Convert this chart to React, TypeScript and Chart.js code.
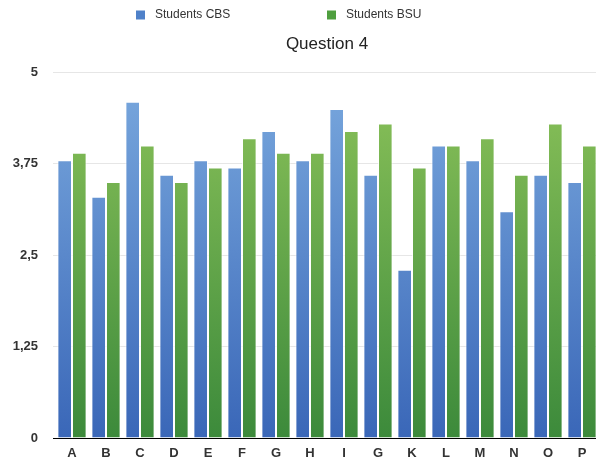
import React, { useEffect, useRef } from "react";
import { Chart, registerables } from "chart.js";

Chart.register(...registerables);

// Survey answers, question 4
const categories = ["A", "B", "C", "D", "E", "F", "G", "H", "I", "G", "K", "L", "M", "N", "O", "P"];
const studentsCBS = [3.8, 3.3, 4.6, 3.6, 3.8, 3.7, 4.2, 3.8, 4.5, 3.6, 2.3, 4.0, 3.8, 3.1, 3.6, 3.5];
const studentsBSU = [3.9, 3.5, 4.0, 3.5, 3.7, 4.1, 3.9, 3.9, 4.2, 4.3, 3.7, 4.0, 4.1, 3.6, 4.3, 4.0];
const seriesNames = ["Students CBS", "Students BSU"];
const yTickValues = [0, 1.25, 2.5, 3.75, 5];
const yTickLabels = ["0", "1,25", "2,5", "3,75", "5"];
const chartTitle = "Question 4";

const FONT = '"Liberation Sans", Arial, Helvetica, sans-serif';

// top / bottom stops of each series' vertical gradient
const palettes = [
  { top: "#7aa9de", bottom: "#3a67b8", swatch: "#4f81c9" },
  { top: "#8dc35a", bottom: "#3c8a3b", swatch: "#4f9f3f" },
];

function gradientFor(idx: number) {
  return (context: any) => {
    const { chart } = context;
    const area = chart.chartArea;
    if (!area) return palettes[idx].bottom;
    const g = chart.ctx.createLinearGradient(0, area.top, 0, area.bottom);
    g.addColorStop(0, palettes[idx].top);
    g.addColorStop(1, palettes[idx].bottom);
    return g;
  };
}

// legend row drawn above the title
const topLegend = {
  id: "topLegend",
  afterDraw(chart: any) {
    const ctx = chart.ctx;
    const starts = [136, 327];
    const y = 15;
    ctx.save();
    ctx.font = `12px ${FONT}`;
    ctx.textBaseline = "middle";
    ctx.textAlign = "left";
    chart.data.datasets.forEach((ds: any, i: number) => {
      const x = starts[i];
      ctx.fillStyle = palettes[i].swatch;
      ctx.fillRect(x, y - 4.5, 9, 9);
      ctx.fillStyle = "#333";
      ctx.fillText(ds.label, x + 19, y);
    });
    ctx.restore();
  },
};

export default function App() {
  const canvasRef = useRef<HTMLCanvasElement | null>(null);

  useEffect(() => {
    if (!canvasRef.current) return;
    const chart = new Chart(canvasRef.current, {
      type: "bar",
      data: {
        labels: categories,
        datasets: [
          {
            label: seriesNames[0],
            data: studentsCBS,
            backgroundColor: gradientFor(0),
            borderColor: "rgba(255,255,255,0.75)",
            borderWidth: 1,
            categoryPercentage: 0.86,
            barPercentage: 1,
          },
          {
            label: seriesNames[1],
            data: studentsBSU,
            backgroundColor: gradientFor(1),
            borderColor: "rgba(255,255,255,0.75)",
            borderWidth: 1,
            categoryPercentage: 0.86,
            barPercentage: 1,
          },
        ],
      },
      plugins: [topLegend],
      options: {
        animation: false,
        responsive: true,
        maintainAspectRatio: false,
        layout: { padding: 0 },
        plugins: {
          legend: { display: false },
          tooltip: { enabled: false },
          title: {
            display: true,
            text: chartTitle,
            fullSize: false,
            color: "#222",
            font: { family: FONT, size: 17, weight: "normal" },
            padding: { top: 34, bottom: 18 },
          },
        },
        scales: {
          x: {
            grid: { display: false, drawTicks: false },
            border: { display: true, color: "#000", width: 1 },
            ticks: {
              color: "#333",
              padding: 8,
              font: { family: FONT, size: 13, weight: "bold" },
            },
            afterFit: (scale: any) => {
              scale.height = 27;
            },
          },
          y: {
            min: 0,
            max: 5,
            afterBuildTicks: (scale: any) => {
              scale.ticks = yTickValues.map((v) => ({ value: v }));
            },
            grid: {
              color: (c: any) => (c.index === 0 ? "#000" : "#e6e6e6"),
              lineWidth: 1,
              drawTicks: true,
              tickLength: 2,
            },
            border: { display: false },
            ticks: {
              color: "#333",
              padding: 15,
              font: { family: FONT, size: 13, weight: "bold" },
              callback: (_v: any, i: number) => yTickLabels[i],
            },
            afterFit: (scale: any) => {
              scale.width = 55;
            },
          },
        },
      },
    });
    return () => chart.destroy();
  }, []);

  return (
    <div
      style={{
        position: "fixed",
        left: 0,
        top: 0,
        width: 596,
        height: 465,
        overflow: "hidden",
        background: "#fff",
      }}
    >
      <div style={{ position: "relative", width: 599, height: 465 }}>
        <canvas ref={canvasRef} />
      </div>
    </div>
  );
}
